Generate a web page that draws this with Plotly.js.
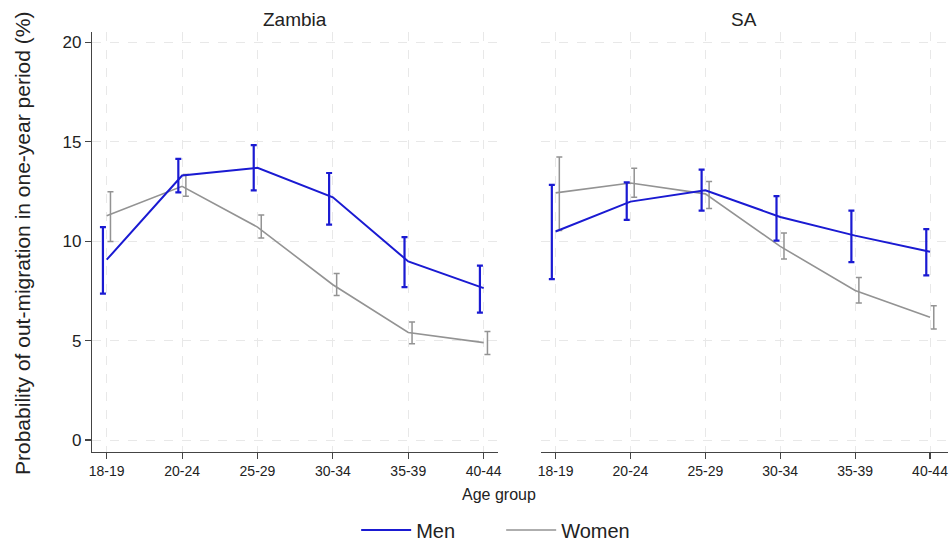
<!DOCTYPE html>
<html>
<head>
<meta charset="utf-8">
<script src="https://cdn.plot.ly/plotly-3.0.1.min.js"></script>
<style>
  html, body { margin: 0; padding: 0; background: #fff; }
  #chart { width: 950px; height: 541px; }
</style>
</head>
<body>
<div id="chart"></div>
<script>
const ageGroups = ['18-19', '20-24', '25-29', '30-34', '35-39', '40-44'];

const zambiaMen     = [9.07, 13.30, 13.69, 12.21, 8.98, 7.64];
const zambiaMenLo   = [7.36, 12.46, 12.56, 10.83, 7.69, 6.41];
const zambiaMenHi   = [10.71, 14.14, 14.83, 13.43, 10.21, 8.77];

const zambiaWomen   = [11.28, 12.76, 10.71, 7.81, 5.41, 4.90];
const zambiaWomenLo = [9.99, 12.26, 10.16, 7.27, 4.84, 4.30];
const zambiaWomenHi = [12.49, 13.35, 11.32, 8.38, 5.94, 5.46];

const saMen         = [10.49, 11.99, 12.56, 11.22, 10.28, 9.47];
const saMenLo       = [8.09, 11.07, 11.54, 10.03, 8.95, 8.28];
const saMenHi       = [12.83, 12.96, 13.60, 12.27, 11.54, 10.61];

const saWomen       = [12.43, 12.93, 12.38, 9.74, 7.52, 6.18];
const saWomenLo     = [10.54, 12.21, 11.64, 9.10, 6.89, 5.58];
const saWomenHi     = [14.24, 13.67, 13.00, 10.41, 8.18, 6.75];

const yTicks = [0, 5, 10, 15, 20];

const MEN_COLOR = '#1a1ad2';
const WOMEN_COLOR = '#939393';
const FONT = 'Liberation Sans, Arial, sans-serif';

const idx = ageGroups.map((_, i) => i);
const OFF = 0.05;

function lineTrace(y, name, color, width, xa, ya, showlegend, rank) {
  return {
    type: 'scatter', mode: 'lines', x: idx, y: y, name: name,
    line: { color: color, width: width },
    xaxis: xa, yaxis: ya, showlegend: showlegend, legendgroup: name,
    legendrank: rank, hoverinfo: 'skip'
  };
}
function errTrace(y, lo, hi, name, color, thick, xa, ya, off) {
  return {
    type: 'scatter', mode: 'markers', x: idx.map(i => i + off), y: y, name: name,
    marker: { size: 1, color: 'rgba(0,0,0,0)' },
    error_y: {
      type: 'data', symmetric: false,
      array: hi.map((h, i) => h - y[i]),
      arrayminus: lo.map((l, i) => y[i] - l),
      color: color, thickness: thick, width: 3
    },
    xaxis: xa, yaxis: ya, showlegend: false, legendgroup: name, hoverinfo: 'skip'
  };
}

const data = [
  errTrace(zambiaWomen, zambiaWomenLo, zambiaWomenHi, 'Women', WOMEN_COLOR, 1.5, 'x', 'y', OFF),
  lineTrace(zambiaWomen, 'Women', WOMEN_COLOR, 1.6, 'x', 'y', true, 2),
  errTrace(saWomen, saWomenLo, saWomenHi, 'Women', WOMEN_COLOR, 1.5, 'x2', 'y2', OFF),
  lineTrace(saWomen, 'Women', WOMEN_COLOR, 1.6, 'x2', 'y2', false, 2),
  errTrace(zambiaMen, zambiaMenLo, zambiaMenHi, 'Men', MEN_COLOR, 2.2, 'x', 'y', -OFF),
  lineTrace(zambiaMen, 'Men', MEN_COLOR, 2, 'x', 'y', true, 1),
  errTrace(saMen, saMenLo, saMenHi, 'Men', MEN_COLOR, 2.2, 'x2', 'y2', -OFF),
  lineTrace(saMen, 'Men', MEN_COLOR, 2, 'x2', 'y2', false, 1)
];

const xCommon = {
  tickmode: 'array', tickvals: idx, ticktext: ageGroups,
  tickfont: { family: FONT, size: 14, color: '#222' },
  ticks: 'outside', ticklen: 6, tickcolor: '#444', tickwidth: 1.2,
  ticklabeloverflow: 'allow',
  showline: true, linecolor: '#444', linewidth: 1.2,
  showgrid: true, gridcolor: '#e8e8e8', griddash: 'dash', gridwidth: 1,
  zeroline: false, fixedrange: true, automargin: false
};
const yCommon = {
  range: [-0.6, 20.52],
  tickmode: 'array', tickvals: yTicks,
  showgrid: true, gridcolor: '#e8e8e8', griddash: 'dash', gridwidth: 1,
  zeroline: false, fixedrange: true, automargin: false
};

const layout = {
  width: 950, height: 541,
  margin: { l: 92, r: 2, t: 32, b: 89 },
  paper_bgcolor: '#fff', plot_bgcolor: '#fff',
  font: { family: FONT, color: '#222' },
  showlegend: true,
  xaxis: Object.assign({}, xCommon, { range: [-0.195, 5.19], domain: [0, 0.4743], anchor: 'y' }),
  xaxis2: Object.assign({}, xCommon, { range: [-0.195, 5.24], domain: [0.5245, 1], anchor: 'y2' }),
  yaxis: Object.assign({}, yCommon, {
    domain: [0, 1], anchor: 'x',
    tickfont: { family: FONT, size: 17, color: '#222' },
    ticks: 'outside', ticklen: 6, tickcolor: '#444', tickwidth: 1.2,
    showline: true, linecolor: '#444', linewidth: 1.2
  }),
  yaxis2: Object.assign({}, yCommon, {
    domain: [0, 1], anchor: 'x2',
    showticklabels: false, ticks: '', showline: false
  }),
  legend: {
    orientation: 'h', xref: 'paper', x: 0.478, xanchor: 'center',
    yref: 'container', y: 0.0203, yanchor: 'middle',
    font: { family: FONT, size: 20, color: '#222' },
    itemwidth: 50, entrywidth: 80, tracegroupgap: 0, bgcolor: 'rgba(0,0,0,0)'
  },
  annotations: [
    { text: 'Zambia', xref: 'paper', yref: 'paper', x: 0.2372, y: 1.0286,
      xanchor: 'center', yanchor: 'middle', showarrow: false,
      font: { family: FONT, size: 19, color: '#222' } },
    { text: 'SA', xref: 'paper', yref: 'paper', x: 0.7622, y: 1.0286,
      xanchor: 'center', yanchor: 'middle', showarrow: false,
      font: { family: FONT, size: 19, color: '#222' } },
    { text: 'Age group', xref: 'paper', yref: 'paper', x: 0.476, y: -0.102,
      xanchor: 'center', yanchor: 'middle', showarrow: false,
      font: { family: FONT, size: 16, color: '#222' } },
    { text: 'Probability of out-migration in one-year period (%)', xref: 'paper', yref: 'paper',
      x: -0.0818, y: 0.4976, xanchor: 'center', yanchor: 'middle', textangle: -90,
      showarrow: false, font: { family: FONT, size: 21, color: '#222' } }
  ]
};

Plotly.newPlot('chart', data, layout, { staticPlot: true, displayModeBar: false });
</script>
</body>
</html>
